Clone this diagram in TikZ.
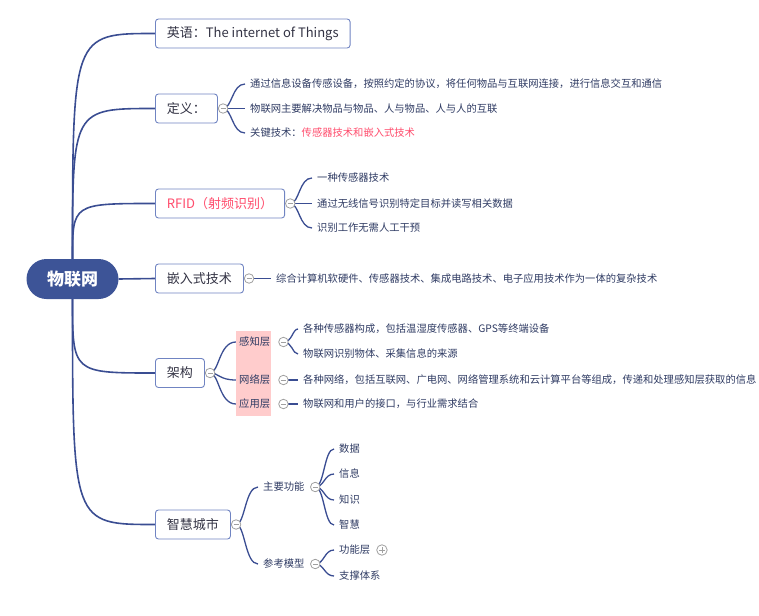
\documentclass[tikz,border=0pt]{standalone}
\usepackage{fontspec}
\setmainfont{Noto Sans CJK SC}
\usetikzlibrary{positioning, calc, backgrounds}

\definecolor{rootblue}{HTML}{3D5497}
\definecolor{linkblue}{HTML}{3A4D92}
\definecolor{boxline}{HTML}{7084C2}
\definecolor{topictext}{HTML}{333344}
\definecolor{leafnavy}{HTML}{2F3B63}
\definecolor{pinkred}{HTML}{FF4D6D}
\definecolor{layerpink}{HTML}{FFCCCC}
\definecolor{foldgray}{HTML}{A0A0A0}

\begin{document}
\begin{tikzpicture}[
    x=1pt, y=-1pt,
    rootnode/.style={rectangle, rounded corners=20pt, minimum width=92pt, minimum height=40pt, fill=rootblue, text=white, font=\fontsize{17}{20}\selectfont\bfseries},
    topic/.style={rectangle, rounded corners=3pt, anchor=west, minimum height=29pt, inner xsep=11.5pt, draw=boxline, line width=0.9pt, fill=white, text=topictext, font=\fontsize{13}{15}\selectfont},
    leaf/.style={anchor=west, inner xsep=5pt, inner ysep=1pt, text=leafnavy, font=\fontsize{10.3}{12}\selectfont},
    layer/.style={anchor=west, inner xsep=3pt, inner ysep=1pt, text=leafnavy, font=\fontsize{10.3}{12}\selectfont},
    fold/.style={circle, draw=foldgray, fill=white, line width=0.8pt, minimum size=9.5pt, inner sep=0pt,
      path picture={\draw[foldgray, line width=0.8pt] ([xshift=-2.5pt]path picture bounding box.center) -- ([xshift=2.5pt]path picture bounding box.center);}},
    unfold/.style={circle, draw=foldgray, fill=white, line width=0.8pt, minimum size=10.5pt, inner sep=0pt,
      path picture={\draw[foldgray, line width=0.8pt] ([xshift=-3pt]path picture bounding box.center) -- ([xshift=3pt]path picture bounding box.center)
        ([yshift=-3pt]path picture bounding box.center) -- ([yshift=3pt]path picture bounding box.center);}},
    branch/.style={draw=linkblue, line width=1.6pt},
    twig/.style={draw=linkblue, line width=1.3pt,
      to path={.. controls ($(\tikztostart)+(9,0)$) and ($(\tikztostart |- \tikztotarget)+(9,0)$) .. (\tikztotarget)}},
]
    \useasboundingbox (0,0) rectangle (759,615);

    % root and main topics
    \node (iot) [rootnode] at (72.5,279) {物联网};

    \node (eng) [topic] at (155,33.5) {英语：The internet of Things};
    \node (def) [topic] at (155,108.5) {定义：};
    \node (rfid) [topic, text=pinkred] at (155,203.5) {RFID（射频识别）};
    \node (emb) [topic] at (155,278.5) {嵌入式技术};
    \node (arch) [topic] at (155,373) {架构};
    \node (city) [topic] at (155,524.5) {智慧城市};

    \node (deffold) [fold, right=0pt of def] {};
    \node (rfidfold) [fold, right=0pt of rfid] {};
    \node (embfold) [fold, right=0pt of emb] {};
    \node (archfold) [fold, right=0pt of arch] {};
    \node (cityfold) [fold, right=0pt of city] {};

    % definition
    \node (def1) [leaf] at (245,84) {通过信息设备传感设备，按照约定的协议，将任何物品与互联网连接，进行信息交互和通信};
    \node (def2) [leaf] at (245,108.5) {物联网主要解决物品与物品、人与物品、人与人的互联};
    \node (def3) [leaf] at (245,133) {关键技术：\textcolor{pinkred}{传感器技术和嵌入式技术}};

    % rfid
    \node (rfid1) [leaf] at (312,178) {一种传感器技术};
    \node (rfid2) [leaf] at (312,203.5) {通过无线信号识别特定目标并读写相关数据};
    \node (rfid3) [leaf] at (312,228) {识别工作无需人工干预};

    % embedded
    \node (emb1) [leaf] at (271,278.5) {综合计算机软硬件、传感器技术、集成电路技术、电子应用技术作为一体的复杂技术};

    % architecture layers
    \fill [layerpink] (236,331) rectangle (271,416);
    \node (sense) [layer] at (236,342) {感知层};
    \node (net) [layer] at (236,380) {网络层};
    \node (app) [layer] at (236,404) {应用层};
    \node (sensefold) [fold, right=5pt of sense] {};
    \node (netfold) [fold, right=5pt of net] {};
    \node (appfold) [fold, right=5pt of app] {};

    \node (sense1) [leaf] at (298,329) {各种传感器构成，包括温湿度传感器、GPS等终端设备};
    \node (sense2) [leaf] at (298,354) {物联网识别物体、采集信息的来源};
    \node (net1) [leaf] at (298,380) {各种网络，包括互联网、广电网、网络管理系统和云计算平台等组成，传递和处理感知层获取的信息};
    \node (app1) [leaf] at (298,404) {物联网和用户的接口，与行业需求结合};

    % smart city
    \node (func) [leaf] at (258,487) {主要功能};
    \node (model) [leaf] at (258,564) {参考模型};
    \node (funcfold) [fold, right=0.5pt of func] {};
    \node (modelfold) [fold, right=0.5pt of model] {};

    \node (data) [leaf] at (334,449) {数据};
    \node (info) [leaf] at (334,474) {信息};
    \node (know) [leaf] at (334,500) {知识};
    \node (wise) [leaf] at (334,525) {智慧};
    \node (flayer) [leaf] at (334,550) {功能层};
    \node (support) [leaf] at (334,576) {支撑体系};
    \node (flayerfold) [unfold, right=1pt of flayer] {};

    \begin{scope}[on background layer]
    % connectors from root
    \draw [branch] (iot.north) .. controls (iot.north |- eng.west) .. (eng.west);
    \draw [branch] (iot.north) .. controls (iot.north |- def.west) .. (def.west);
    \draw [branch] (iot.north) .. controls (iot.north |- rfid.west) .. (rfid.west);
    \draw [branch] (iot.east) -- (emb.west);
    \draw [branch] (iot.south) .. controls (iot.south |- arch.west) .. (arch.west);
    \draw [branch] (iot.south) .. controls (iot.south |- city.west) .. (city.west);

    % connectors to leaves
    \draw [twig] (deffold.center) to (def1.west);
    \draw [twig] (deffold.center) to (def2.west);
    \draw [twig] (deffold.center) to (def3.west);

    \draw [twig] (rfidfold.center) to (rfid1.west);
    \draw [twig] (rfidfold.center) to (rfid2.west);
    \draw [twig] (rfidfold.center) to (rfid3.west);

    \draw [twig] (embfold.center) to (emb1.west);

    \draw [twig] (archfold.center) to (sense.west);
    \draw [twig] (archfold.center) to (net.west);
    \draw [twig] (archfold.center) to (app.west);

    \draw [twig] (sensefold.center) to (sense1.west);
    \draw [twig] (sensefold.center) to (sense2.west);
    \draw [twig] (netfold.center) to (net1.west);
    \draw [twig] (appfold.center) to (app1.west);

    \draw [twig] (cityfold.center) to (func.west);
    \draw [twig] (cityfold.center) to (model.west);

    \draw [twig] (funcfold.center) to (data.west);
    \draw [twig] (funcfold.center) to (info.west);
    \draw [twig] (funcfold.center) to (know.west);
    \draw [twig] (funcfold.center) to (wise.west);
    \draw [twig] (modelfold.center) to (flayer.west);
    \draw [twig] (modelfold.center) to (support.west);
    \end{scope}

\end{tikzpicture}
\end{document}
